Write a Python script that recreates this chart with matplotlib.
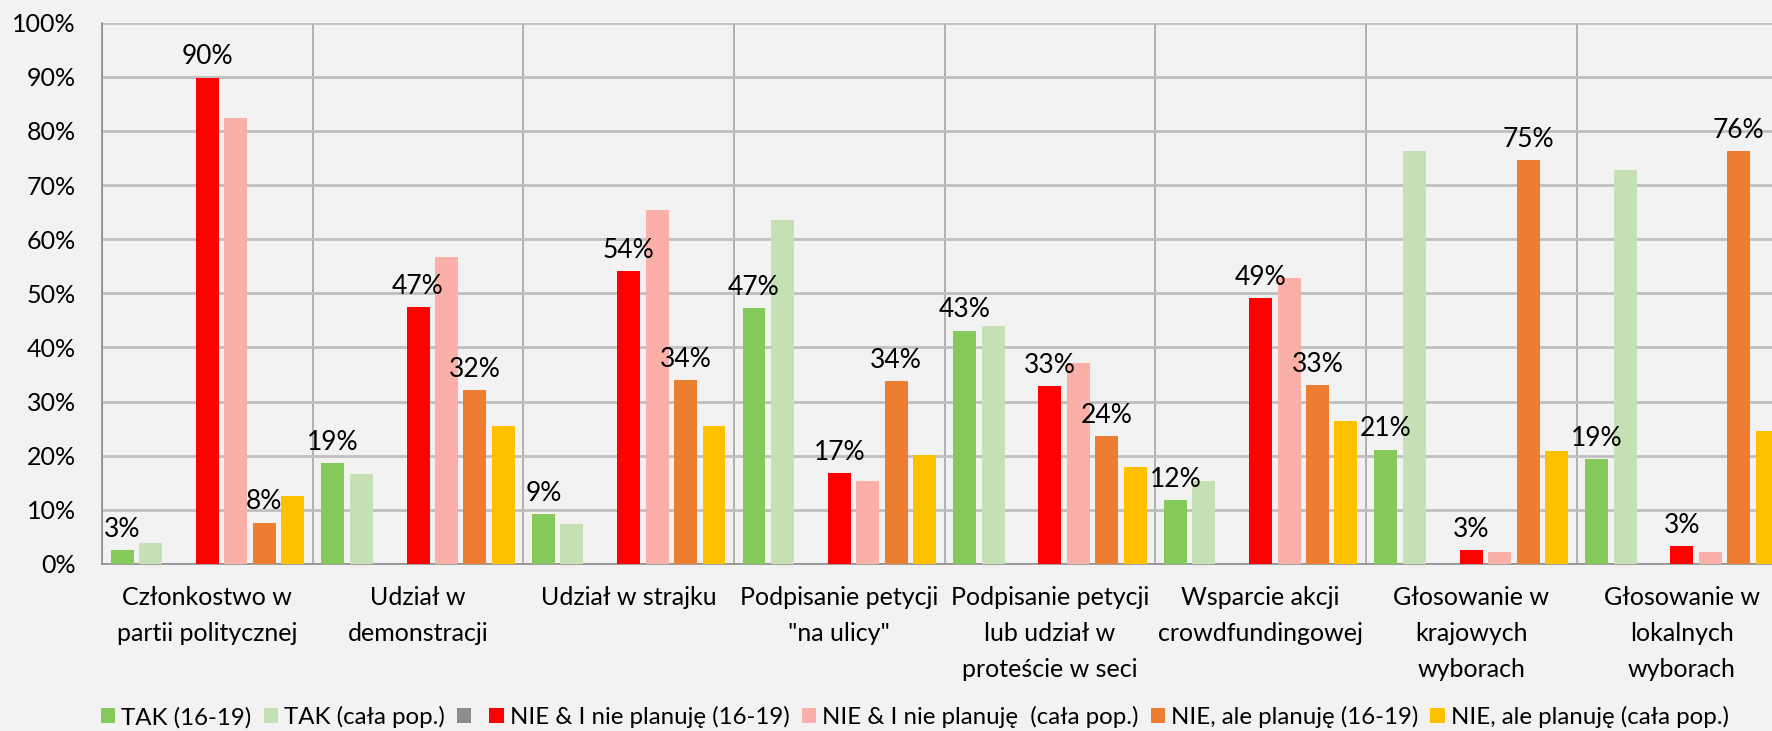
import numpy as np
import matplotlib
matplotlib.use("Agg")
import matplotlib.pyplot as plt
from matplotlib.patches import Patch

plt.rcParams['font.family'] = ['Lato', 'DejaVu Sans']

# ---- data (percent) ----
categories = [
    "Członkostwo w\npartii politycznej",
    "Udział w\ndemonstracji",
    "Udział w strajku",
    "Podpisanie petycji\n\"na ulicy\"",
    "Podpisanie petycji\nlub udział w\nproteście w seci",
    "Wsparcie akcji\ncrowdfundingowej",
    "Głosowanie w\nkrajowych\nwyborach",
    "Głosowanie w\nlokalnych\nwyborach",
]

tak_1619 = [2.6, 18.6, 9.2, 47.3, 43.1, 11.8, 21.1, 19.4]
tak_all = [3.9, 16.7, 7.3, 63.5, 43.9, 15.3, 76.2, 72.7]
empty_series = [0, 0, 0, 0, 0, 0, 0, 0]
nie_1619 = [89.8, 47.4, 54.1, 16.8, 32.9, 49.1, 2.6, 3.3]
nie_all = [82.4, 56.7, 65.3, 15.3, 37.1, 52.8, 2.3, 2.3]
plan_1619 = [7.6, 32.1, 33.9, 33.8, 23.6, 33.0, 74.6, 76.2]
plan_all = [12.5, 25.5, 25.5, 20.1, 17.9, 26.5, 20.9, 24.5]

series_names = [
    "TAK (16-19)",
    "TAK (cała pop.)",
    "",
    "NIE & I nie planuję (16-19)",
    "NIE & I nie planuję  (cała pop.)",
    "NIE, ale planuję (16-19)",
    "NIE, ale planuję (cała pop.)",
]
series_values = [tak_1619, tak_all, empty_series, nie_1619, nie_all, plan_1619, plan_all]
series_colors = ["#86C95B", "#C5E0B4", "#8C8C8C", "#FF0000", "#FAAFA9", "#ED7D31", "#FFC000"]
show_labels = [True, False, False, True, False, True, False]

# ---- figure ----
fig = plt.figure(figsize=(17.72, 7.31), dpi=100)
fig.patch.set_facecolor("#F2F2F2")
ax = fig.add_axes([0.0576, 0.2285, 0.951, 0.7406])
ax.set_facecolor("#F2F2F2")

x = np.arange(len(categories)) + 0.5
slot = 0.135
bar_w = 0.109

for j, (vals, col, lab) in enumerate(zip(series_values, series_colors, show_labels)):
    pos = x + (j - 3) * slot
    bars = ax.bar(pos, vals, width=bar_w, color=col, linewidth=0, zorder=3)
    if lab:
        for b, v in zip(bars, vals):
            ax.annotate(f"{v:.0f}%", (b.get_x() + b.get_width() / 2, v),
                        xytext=(0, 6), textcoords="offset points",
                        ha="center", va="bottom", fontsize=19, color="black",
                        zorder=4)

ax.set_xlim(0, len(categories))
ax.set_ylim(0, 100)

ax.set_yticks(np.arange(0, 101, 10))
ax.set_yticklabels([f"{t}%" for t in range(0, 101, 10)], fontsize=18)
ax.set_xticks(x)
ax.set_xticklabels(categories, fontsize=18, linespacing=1.67, va="top")
ax.set_xticks(np.arange(0, len(categories) + 1), minor=True)
ax.tick_params(axis="both", which="both", length=0)
ax.tick_params(axis="y", pad=19)
ax.tick_params(axis="x", pad=16)

ax.grid(axis="y", which="major", color="#BFBFBF", linewidth=2, zorder=1)
ax.grid(axis="x", which="minor", color="#A6A6A6", linewidth=1.2, zorder=1)
ax.grid(axis="x", which="major", visible=False)

for s in ["top", "right"]:
    ax.spines[s].set_visible(False)
ax.spines["left"].set_color("#8C8C8C")
ax.spines["bottom"].set_color("#8C8C8C")
ax.spines["left"].set_linewidth(1.2)
ax.spines["bottom"].set_linewidth(1.2)

handles = [Patch(facecolor=c, edgecolor="none") for c in series_colors]
fig.legend(handles, series_names, loc="center left", bbox_to_anchor=(0.057, 0.019),
           ncol=len(series_names), frameon=False, fontsize=17.3,
           handlelength=0.6, handleheight=0.6, handletextpad=0.25,
           columnspacing=0.5, borderpad=0, borderaxespad=0)

fig.savefig("out.png", dpi=100, facecolor=fig.get_facecolor())
